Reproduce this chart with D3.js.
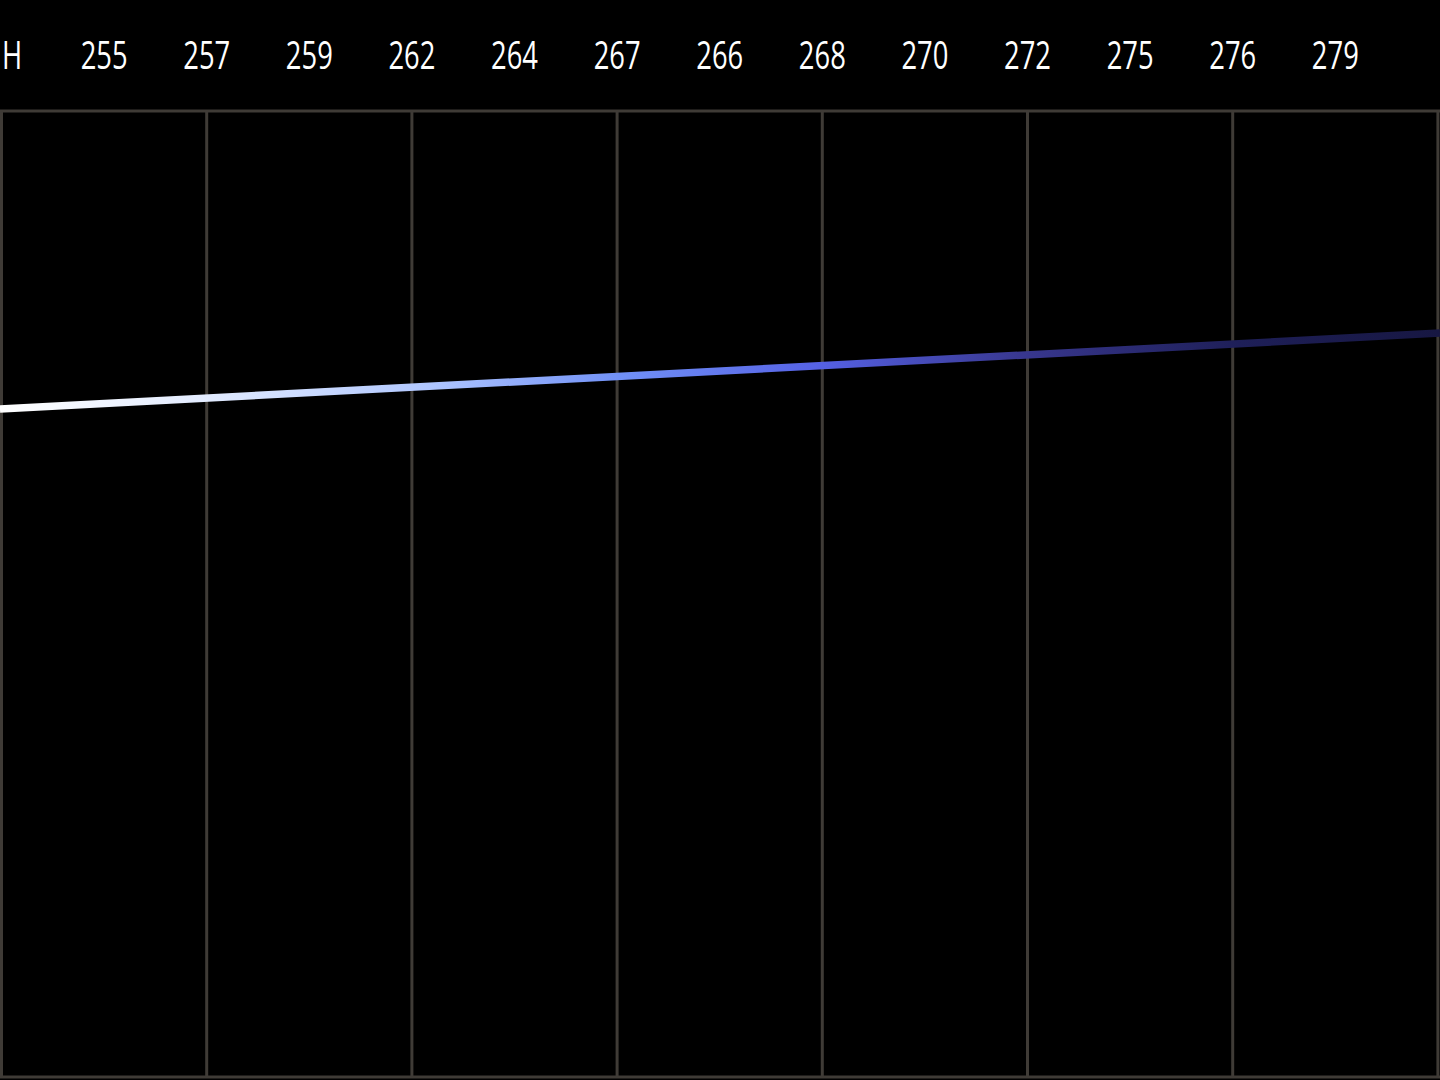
<!DOCTYPE html>
<html><head><meta charset="utf-8">
<script src="https://cdn.jsdelivr.net/npm/d3@7"></script>
<style>html,body{margin:0;padding:0;background:#000;overflow:hidden}svg{display:block}</style>
</head><body>
<script>
const headerLabels = ["H","255","257","259","262","264","267","266","268","270","272","275","276","279"];
const gridIndex = [0,2,4,6,8,10,12,14];
const lineIndex = [-0.015, 14.02];
const lineValues = [252.4, 281.1];
const gradStops = [
  {o:0, c:"#ffffff"},{o:0.14, c:"#e3ecff"},{o:0.29, c:"#b3c9ff"},{o:0.43, c:"#7191f7"},
  {o:0.57, c:"#5561e4"},{o:0.71, c:"#38378f"},{o:0.86, c:"#1e1f58"},{o:1, c:"#171742"}
];

(function(){
const W = 1440, H = 1080;
const svg = d3.select("body").append("svg").attr("width", W).attr("height", H);
svg.append("rect").attr("width", W).attr("height", H).attr("fill", "#000");

const plotTop = 111, plotBottom = 1077;
const x = d3.scaleLinear().domain([0, 14]).range([1.5, 1437.9]);
const y = d3.scaleLinear().domain([0, 365]).range([plotBottom, plotTop]);

const defs = svg.append("defs");
const lg = defs.append("linearGradient").attr("id","lg").attr("gradientUnits","userSpaceOnUse")
  .attr("x1", 0).attr("x2", W).attr("y1", 0).attr("y2", 0);
lg.selectAll("stop").data(gradStops).join("stop").attr("offset", d=>d.o).attr("stop-color", d=>d.c);

const gridColor = "#3f3b36";
svg.append("g").selectAll("line").data(gridIndex).join("line")
  .attr("x1", d=>x(d)).attr("x2", d=>x(d)).attr("y1", plotTop).attr("y2", plotBottom)
  .attr("stroke", gridColor).attr("stroke-width", 3);
svg.append("line").attr("x1",0).attr("x2",W).attr("y1",plotTop).attr("y2",plotTop).attr("stroke",gridColor).attr("stroke-width",3);
svg.append("line").attr("x1",0).attr("x2",W).attr("y1",plotBottom).attr("y2",plotBottom).attr("stroke",gridColor).attr("stroke-width",3);

const pts = lineIndex.map((d,i)=>[x(d), y(lineValues[i])]);
svg.append("path").attr("d", d3.line()(pts)).attr("fill","none")
  .attr("stroke","url(#lg)").attr("stroke-width",7.5);

svg.append("g").selectAll("text").data(headerLabels).join("text")
  .attr("transform", (d,i)=> `translate(${i===0 ? 2 : x(i)},69) scale(0.72,1)`)
  .attr("text-anchor", (d,i)=> i===0 ? "start" : "middle")
  .attr("fill","#fff")
  .attr("font-family","'Open Sans', Lato, sans-serif")
  .attr("font-weight", 400)
  .attr("font-size", 38)
  .text(d=>d);
})();
</script>
</body></html>
